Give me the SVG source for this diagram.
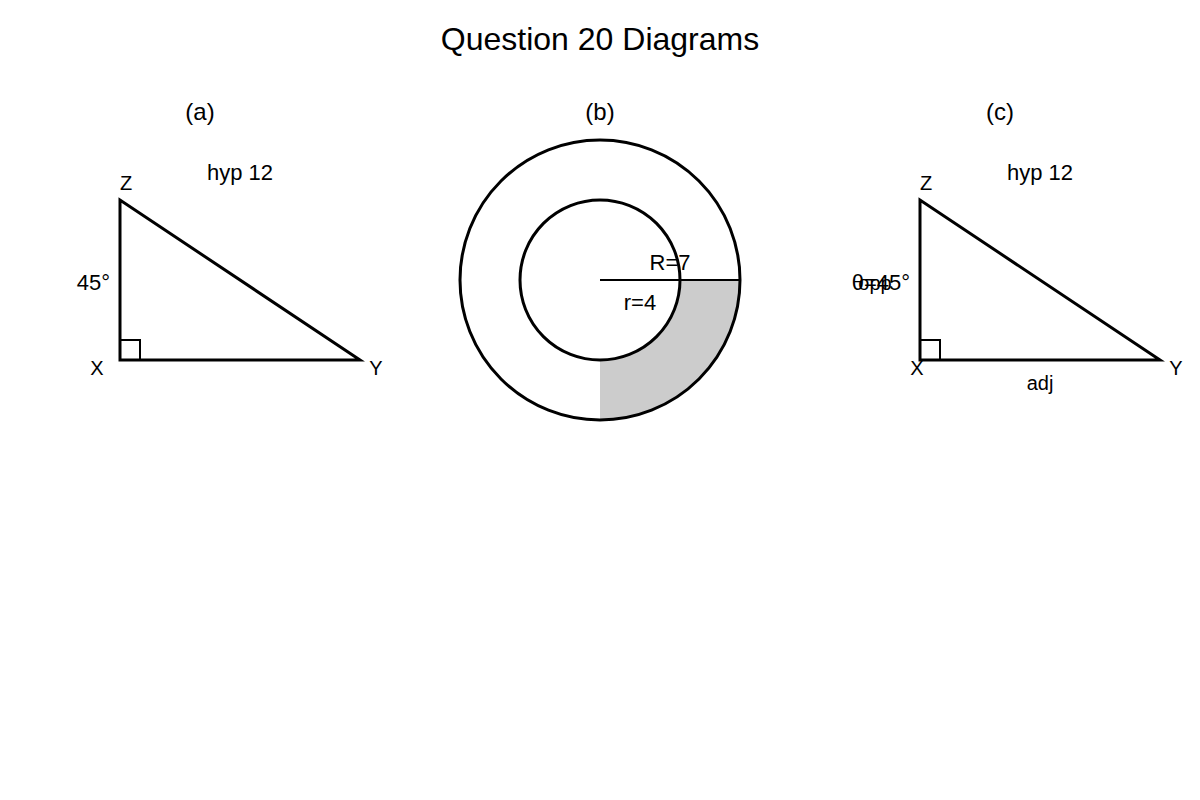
<svg xmlns="http://www.w3.org/2000/svg" width="1200" height="800" viewBox="0 0 1200 800">
<style>
text{font-family:"Liberation Sans",Arial,sans-serif;fill:#000}
.tri{fill:none;stroke:#000;stroke-width:3}
.sq{fill:none;stroke:#000;stroke-width:2}
.circ{fill:none;stroke:#000;stroke-width:3}
</style>
<rect width="1200" height="800" fill="#fff"/>
<text x="600" y="50" font-size="32" text-anchor="middle">Question 20 Diagrams</text>
<g id="diagram-a">
<text x="200" y="120" font-size="24" text-anchor="middle">(a)</text>
<polygon class="tri" points="120,200 120,360 360,360"/>
<polyline class="sq" points="120,340 140,340 140,360"/>
<text x="126" y="190" font-size="20" text-anchor="middle">Z</text>
<text x="97" y="375" font-size="20" text-anchor="middle">X</text>
<text x="376" y="375" font-size="20" text-anchor="middle">Y</text>
<text x="240" y="180" font-size="22" text-anchor="middle">hyp 12</text>
<text x="110" y="290" font-size="22" text-anchor="end">45°</text>
</g>
<g id="diagram-b">
<text x="600" y="120" font-size="24" text-anchor="middle">(b)</text>
<path d="M740,280 A140,140 0 0 1 600,420 L600,360 A80,80 0 0 0 680,280 Z" fill="#cccccc"/>
<circle class="circ" cx="600" cy="280" r="140"/>
<circle class="circ" cx="600" cy="280" r="80"/>
<line x1="600" y1="280" x2="740" y2="280" stroke="#000" stroke-width="2"/>
<text x="670" y="270" font-size="22" text-anchor="middle">R=7</text>
<text x="640" y="310" font-size="22" text-anchor="middle">r=4</text>
</g>
<g id="diagram-c">
<text x="1000" y="120" font-size="24" text-anchor="middle">(c)</text>
<polygon class="tri" points="920,200 920,360 1160,360"/>
<polyline class="sq" points="920,340 940,340 940,360"/>
<text x="926" y="190" font-size="20" text-anchor="middle">Z</text>
<text x="917" y="375" font-size="20" text-anchor="middle">X</text>
<text x="1176" y="375" font-size="20" text-anchor="middle">Y</text>
<text x="1040" y="180" font-size="22" text-anchor="middle">hyp 12</text>
<text x="910" y="290" font-size="22" text-anchor="end">θ=45°</text>
<text x="875" y="290" font-size="20" text-anchor="middle">opp</text>
<text x="1040" y="390" font-size="20" text-anchor="middle">adj</text>
</g>
</svg>
